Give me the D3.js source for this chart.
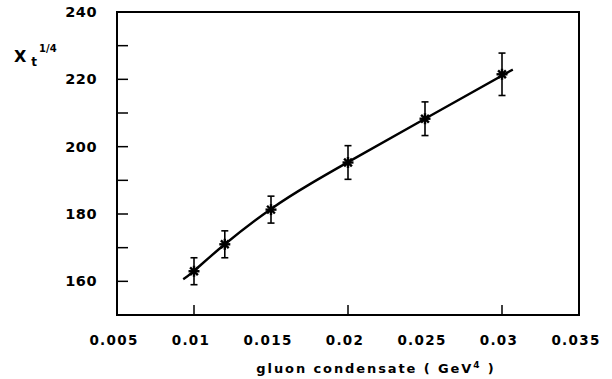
<!DOCTYPE html>
<html>
<head>
<meta charset="utf-8">
<script src="https://cdn.jsdelivr.net/npm/d3@7"></script>
<style>
  body { margin: 0; background: #fff; }
  text { font-family: "DejaVu Sans", Arial, sans-serif; font-weight: bold; fill: #000; }
</style>
</head>
<body>
<svg id="chart" width="612" height="379"></svg>
<script>
// measured points with error bars
var xVals = [0.01, 0.012, 0.015, 0.02, 0.025, 0.03];
var yVals = [163, 171, 181.3, 195.3, 208.3, 221.5];
var yErr = [4, 4, 4, 5, 5, 6.3];

// fitted curve
var curveX = [0.0093, 0.01, 0.012, 0.015, 0.0175, 0.02, 0.025, 0.0307];
var curveY = [160.6, 163.1, 171, 181.5, 188.8, 195.4, 208.3, 222.9];

var xTicks = [0.005, 0.01, 0.015, 0.02, 0.025, 0.03, 0.035];
var xMarkTicks = [0.01, 0.02, 0.03];
var yTicks = [160, 180, 200, 220, 240];
var yMinor = [150, 170, 190, 210, 230];

var svg = d3.select("#chart");
var pLeft = 117, pRight = 579, pTop = 12, pBottom = 315;

var x = d3.scaleLinear().domain([0.005, 0.035]).range([pLeft, pRight]);
var y = d3.scaleLinear().domain([150, 240]).range([pBottom, pTop]);

// frame
svg.append("rect")
  .attr("x", pLeft).attr("y", pTop)
  .attr("width", pRight - pLeft).attr("height", pBottom - pTop)
  .attr("fill", "none").attr("stroke", "#000").attr("stroke-width", 2);

// y ticks (inward)
svg.selectAll(".ytick").data(yTicks.concat(yMinor)).enter().append("line")
  .attr("x1", pLeft).attr("x2", pLeft + 11)
  .attr("y1", d => y(d)).attr("y2", d => y(d))
  .attr("stroke", "#000").attr("stroke-width", 1.5);

svg.selectAll(".ylab").data(yTicks).enter().append("text")
  .attr("x", 97).attr("y", d => y(d) + 5)
  .attr("text-anchor", "end")
  .attr("font-size", 14.5)
  .attr("letter-spacing", 0.5)
  .text(d => d);

// x ticks (inward)
svg.selectAll(".xtick").data(xMarkTicks).enter().append("line")
  .attr("x1", d => x(d)).attr("x2", d => x(d))
  .attr("y1", pBottom).attr("y2", pBottom - 10)
  .attr("stroke", "#000").attr("stroke-width", 1.5);

svg.selectAll(".xlab").data(xTicks).enter().append("text")
  .attr("x", d => x(d) - 3).attr("y", 345)
  .attr("text-anchor", "middle")
  .attr("font-size", 13.5)
  .attr("letter-spacing", 1.3)
  .text(d => d3.format("")(d));

// axis titles
var xt = svg.append("text")
  .attr("x", 376).attr("y", 373)
  .attr("text-anchor", "middle")
  .attr("font-size", 13)
  .attr("letter-spacing", 1.9);
xt.append("tspan").text("gluon condensate  ( GeV");
xt.append("tspan").attr("dy", -5).attr("font-size", 9).text("4");
xt.append("tspan").attr("dy", 5).text(" )");

var yt = svg.append("text").attr("x", 14).attr("y", 62).attr("font-size", 16);
yt.append("tspan").text("X");
yt.append("tspan").attr("dx", 5).attr("dy", 4).attr("font-size", 12).text("t");
yt.append("tspan").attr("dx", 2).attr("dy", -14).attr("font-size", 10).text("1/4");

// curve
var line = d3.line()
  .x(d => x(d[0])).y(d => y(d[1]))
  .curve(d3.curveNatural);
svg.append("path")
  .datum(d3.zip(curveX, curveY))
  .attr("d", line)
  .attr("fill", "none").attr("stroke", "#000").attr("stroke-width", 2.4);

var pts = xVals.map((v, i) => ({ x: v, y: yVals[i], e: yErr[i] }));

// error bars
var eb = svg.selectAll(".eb").data(pts).enter().append("g")
  .attr("stroke", "#000").attr("stroke-width", 1.6);
eb.append("line")
  .attr("x1", d => x(d.x)).attr("x2", d => x(d.x))
  .attr("y1", d => y(d.y + d.e)).attr("y2", d => y(d.y - d.e));
eb.append("line")
  .attr("x1", d => x(d.x) - 3.5).attr("x2", d => x(d.x) + 3.5)
  .attr("y1", d => y(d.y + d.e)).attr("y2", d => y(d.y + d.e));
eb.append("line")
  .attr("x1", d => x(d.x) - 3.5).attr("x2", d => x(d.x) + 3.5)
  .attr("y1", d => y(d.y - d.e)).attr("y2", d => y(d.y - d.e));

// asterisk markers
var star = svg.selectAll(".star").data(pts).enter().append("g")
  .attr("transform", d => "translate(" + x(d.x) + "," + y(d.y) + ")")
  .attr("stroke", "#000").attr("stroke-width", 2.4);
[0, 45, 90, 135].forEach(function(a) {
  var r = a * Math.PI / 180;
  star.append("line")
    .attr("x1", -5.5 * Math.cos(r)).attr("y1", -5.5 * Math.sin(r))
    .attr("x2", 5.5 * Math.cos(r)).attr("y2", 5.5 * Math.sin(r));
});
</script>
</body>
</html>
